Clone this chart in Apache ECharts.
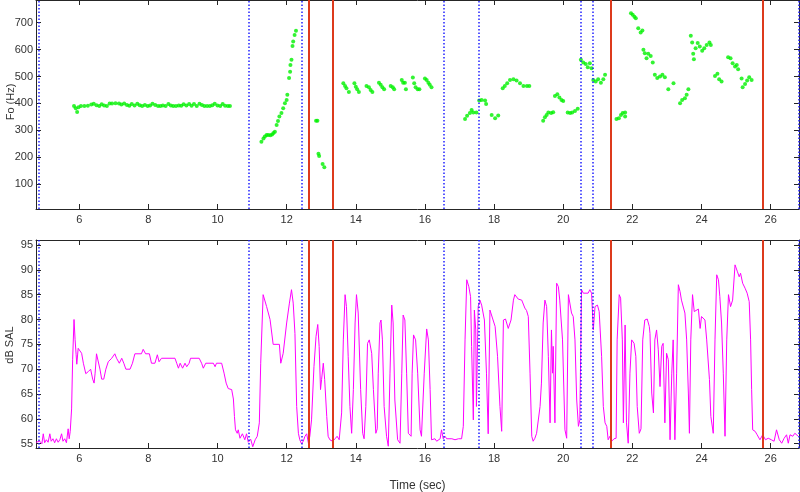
<!DOCTYPE html>
<html>
<head>
<meta charset="utf-8">
<script src="https://cdn.jsdelivr.net/npm/echarts@6/dist/echarts.min.js"></script>
<style>
  html, body { margin: 0; padding: 0; background: #fff; }
  #chart { width: 800px; height: 492px; }
</style>
</head>
<body>
<div id="chart"></div>
<script>
// tick labels
const timeTicks = [6, 8, 10, 12, 14, 16, 18, 20, 22, 24, 26]
const foTicks = [100, 200, 300, 400, 500, 600, 700]
const dbTicks = [55, 60, 65, 70, 75, 80, 85, 90, 95]

// segment boundaries (sec)
const blueMarks = [4.83, 10.89, 12.43, 16.53, 17.56, 20.51, 20.86, 26.81]
const redMarks = [12.64, 13.34, 21.37, 25.76]

// pitch track [time, Fo Hz]
const foPoints = [
  [5.85,390],[5.9,382],[5.94,368],[5.98,386],[6.05,390],[6.15,390],[6.25,391],[6.35,396],[6.42,399],[6.5,393],
  [6.58,390],[6.65,397],[6.72,392],[6.8,390],[6.88,400],[6.95,400],[7.05,401],[7.15,400],[7.22,396],[7.3,400],
  [7.38,394],[7.45,391],[7.52,398],[7.6,392],[7.68,399],[7.75,393],[7.82,390],[7.9,394],[7.98,390],[8.05,392],
  [8.12,399],[8.2,394],[8.28,390],[8.35,390],[8.42,392],[8.5,390],[8.58,398],[8.65,392],[8.72,390],[8.8,390],
  [8.88,392],[8.95,391],[9.02,397],[9.1,392],[9.18,398],[9.25,391],[9.32,398],[9.4,390],[9.48,399],[9.55,394],
  [9.62,390],[9.7,390],[9.78,390],[9.85,393],[9.92,399],[10.0,392],[10.08,390],[10.15,398],[10.22,391],[10.3,390],[10.36,390],
  [11.27,258],[11.33,270],[11.37,277],[11.42,283],[11.47,283],[11.53,282],[11.58,285],[11.62,290],[11.66,295],[11.71,320],
  [11.75,335],[11.79,351],[11.85,364],[11.9,382],[11.95,401],[12.0,413],[12.02,432],[12.07,494],[12.1,518],[12.11,543],
  [12.14,562],[12.17,613],[12.19,630],[12.23,654],[12.27,670],
  [12.85,336],[12.89,336],[12.92,213],[12.94,205],[13.04,175],[13.09,163],
  [13.64,475],[13.69,465],[13.73,456],[13.8,442],
  [13.96,475],[14.0,462],[14.04,453],[14.09,442],
  [14.31,465],[14.38,460],[14.43,450],[14.48,442],
  [14.67,477],[14.72,469],[14.77,460],[14.82,453],
  [15.01,465],[15.07,460],[15.11,453],
  [15.33,487],[15.37,477],[15.42,477],[15.45,453],
  [15.65,496],[15.69,475],[15.73,460],[15.79,453],[15.84,453],
  [16.0,493],[16.05,487],[16.1,477],[16.14,469],[16.19,460],
  [17.16,342],[17.22,354],[17.3,364],[17.35,376],[17.4,366],[17.49,366],[17.57,411],[17.64,413],[17.74,411],[17.77,398],
  [17.93,357],[18.03,345],[18.12,355],[18.25,456],[18.31,465],[18.38,475],[18.46,487],[18.56,490],[18.65,485],[18.75,475],
  [18.85,465],[18.95,465],[19.02,465],
  [19.42,336],[19.47,349],[19.52,357],[19.57,366],[19.65,364],[19.71,367],[19.76,428],[19.83,434],[19.89,422],[19.95,413],
  [20.0,409],[20.13,366],[20.2,364],[20.26,366],[20.34,372],[20.42,380],
  [20.51,562],[20.58,552],[20.65,546],[20.71,534],[20.77,549],[20.82,531],[20.87,487],[20.94,481],[21.01,490],[21.09,477],
  [21.16,490],[21.21,506],
  [21.54,342],[21.61,345],[21.67,357],[21.72,364],[21.79,351],[21.79,366],
  [21.96,735],[22.01,729],[22.06,722],[22.1,716],[22.17,679],[22.24,663],[22.29,671],[22.32,599],[22.36,586],[22.41,568],
  [22.46,584],[22.53,576],[22.59,552],[22.65,506],[22.72,494],[22.8,500],[22.87,506],[22.94,497],[23.04,453],[23.19,475],
  [23.38,401],[23.44,413],[23.52,419],[23.57,432],[23.62,453],
  [23.69,651],[23.73,626],[23.76,584],[23.78,564],[23.83,605],[23.89,624],[23.95,611],[24.02,596],[24.08,605],[24.15,617],
  [24.23,626],[24.27,617],
  [24.39,502],[24.46,510],[24.51,490],[24.58,481],
  [24.77,571],[24.84,568],[24.9,549],[24.97,537],[25.02,543],[25.06,527],[25.16,493],[25.19,460],[25.26,472],[25.32,485],
  [25.38,497],[25.45,487]
]

// sound level [time, dB SAL]
const dbPoints = [
  [4.75,55.3],[4.8,55],[4.86,55.5],[4.92,55],[4.96,57],[5.0,55.2],[5.05,55.8],[5.1,55.3],[5.15,57],[5.19,55.5],
  [5.24,56],[5.29,55.2],[5.34,56],[5.39,55.3],[5.44,55.8],[5.49,57],[5.53,55.5],[5.58,56],[5.63,55.2],[5.68,58],
  [5.71,56],[5.74,57.5],[5.78,62],[5.81,72],[5.85,80],[5.88,76],[5.91,73],[5.93,71],[5.97,74.2],[6.07,73.2],
  [6.12,71.2],[6.19,69.1],[6.26,69.5],[6.33,70],[6.39,68],[6.43,67.2],[6.46,69.2],[6.5,73.1],[6.55,73.1],[6.6,70],
  [6.65,68],[6.71,68],[6.77,70],[6.84,71.5],[6.94,72.2],[7.03,73.1],[7.08,72.2],[7.16,71.2],[7.23,72.2],[7.29,71.2],
  [7.35,70],[7.47,70],[7.54,71.2],[7.61,73.1],[7.8,73.1],[7.85,74],[7.92,73.1],[8.03,73.1],[8.09,71.2],[8.19,71.2],
  [8.26,72.9],[8.31,71.5],[8.38,72.2],[8.77,72.2],[8.82,71.2],[8.87,70.2],[8.92,71.2],[8.99,70.2],[9.06,71.2],[9.11,70.5],
  [9.18,71.2],[9.22,72.2],[9.47,72.2],[9.54,71.2],[9.59,70.2],[9.66,71.2],[9.88,71.2],[9.93,70.5],[9.97,71.2],[10.12,71.2],
  [10.19,69.2],[10.25,67.2],[10.31,66.1],[10.41,65.9],[10.46,64],[10.49,60.5],[10.52,57.8],[10.57,57.1],[10.6,57.8],[10.65,56.1],
  [10.72,57],[10.79,55.8],[10.84,57],[10.89,55.3],[10.96,55.9],[11.02,54.4],[11.09,55.8],[11.15,56.5],[11.21,59.2],[11.25,71.2],
  [11.32,85],[11.42,82.6],[11.52,80],[11.61,75],[11.79,75],[11.83,71.2],[11.9,73.2],[12.0,79.3],[12.08,83.3],[12.14,86],
  [12.19,83.3],[12.24,77.2],[12.29,62.5],[12.34,57.1],[12.38,55.8],[12.43,55],[12.48,55.5],[12.53,56.5],[12.58,57],[12.63,55.1],
  [12.67,56.5],[12.72,59.8],[12.79,70.5],[12.85,76.6],[12.9,79],[12.94,74.6],[12.98,65.9],[13.01,67.9],[13.06,71.2],[13.1,67.9],
  [13.16,60.5],[13.2,56.5],[13.25,55.8],[13.33,55.5],[13.4,56],[13.46,56.5],[13.52,55.8],[13.59,61.2],[13.64,75.9],[13.69,85],
  [13.73,82.6],[13.78,72.6],[13.83,62.5],[13.88,57.1],[13.93,65.9],[13.98,79.3],[14.02,85],[14.07,81.3],[14.14,65.9],[14.2,57.1],
  [14.24,56],[14.29,62.5],[14.34,75.2],[14.39,75.9],[14.46,73.2],[14.51,65.9],[14.58,57.1],[14.62,58],[14.65,69.2],[14.7,79.3],
  [14.73,79.9],[14.77,75.9],[14.82,62.5],[14.89,56.5],[14.94,54.5],[14.99,69.2],[15.04,82.9],[15.08,79.3],[15.13,63.8],[15.21,55.8],
  [15.28,55.1],[15.33,69.2],[15.37,80.9],[15.42,79.9],[15.47,69.2],[15.52,57.1],[15.6,56.5],[15.63,69.2],[15.67,76.9],[15.73,75.9],
  [15.79,69.2],[15.86,57.8],[15.9,56.5],[15.98,69.2],[16.05,78.1],[16.1,75.9],[16.15,65.9],[16.19,55.8],[16.24,55.5],[16.29,56],
  [16.34,55.5],[16.44,56],[16.48,57.8],[16.53,56],[16.58,56.5],[16.63,56],[16.68,55.8],[16.78,56],[16.87,55.8],[16.97,56],
  [17.06,56],[17.11,58.5],[17.16,75.9],[17.21,88],[17.27,86.6],[17.32,84.6],[17.35,74.6],[17.4,59.8],[17.43,81.9],[17.47,77.9],
  [17.49,62.5],[17.54,82.6],[17.59,83.9],[17.64,82.9],[17.72,79.9],[17.78,69.2],[17.83,57],[17.88,81.9],[17.93,81.9],[18.03,78.6],
  [18.1,72.6],[18.17,62.5],[18.22,57.5],[18.27,79.9],[18.33,80.1],[18.41,78.2],[18.49,79.9],[18.56,83.9],[18.6,85],[18.7,84.1],
  [18.8,83.9],[18.89,82.3],[18.94,81.8],[18.99,80.6],[19.04,69.2],[19.09,56.5],[19.13,55.5],[19.18,56.1],[19.23,57.1],[19.28,56.8],
  [19.33,62.5],[19.37,67.2],[19.42,79.3],[19.47,83.9],[19.52,82.6],[19.57,72.6],[19.62,59.2],[19.66,77.9],[19.69,69.2],[19.71,74.6],
  [19.76,59.2],[19.81,87.3],[19.86,86.6],[19.9,83.9],[19.98,75.9],[20.05,57.8],[20.1,56.1],[20.15,85],[20.19,85],[20.24,81.3],
  [20.29,80.6],[20.34,75.9],[20.39,63.8],[20.44,58.5],[20.48,59.8],[20.53,86],[20.58,85.3],[20.72,85.3],[20.77,86],[20.82,85.3],
  [20.87,77.9],[20.92,82.6],[20.99,82.9],[21.04,81.6],[21.11,72.6],[21.16,62.5],[21.21,59.2],[21.26,58.5],[21.3,55.8],[21.35,56.5],
  [21.4,55.5],[21.47,56],[21.53,56.1],[21.56,75.9],[21.62,85],[21.66,84.3],[21.71,75.9],[21.74,59.2],[21.79,78.9],[21.83,59.2],
  [21.88,55.1],[21.93,69.2],[21.98,75.9],[22.05,75.2],[22.1,72.6],[22.14,62.5],[22.2,57.1],[22.25,58],[22.3,75.9],[22.36,79.9],
  [22.43,80.1],[22.49,78.6],[22.51,77.2],[22.56,65.2],[22.61,61.2],[22.65,75.9],[22.7,77.9],[22.75,73.9],[22.8,66.5],[22.85,74.6],
  [22.89,75.2],[22.94,59.2],[22.99,73.2],[23.04,71.9],[23.09,55.8],[23.14,69.2],[23.18,75.9],[23.23,55.8],[23.28,69.2],[23.33,87],
  [23.38,85.6],[23.42,83.9],[23.47,84.3],[23.52,81.3],[23.57,75.9],[23.62,65.2],[23.65,57.1],[23.69,75.9],[23.74,85],[23.79,81.6],
  [23.84,81.9],[23.91,82.1],[23.96,78.2],[24.0,80.6],[24.05,80.9],[24.1,79.9],[24.15,75.9],[24.23,67.9],[24.27,60.5],[24.34,57.1],
  [24.39,75.9],[24.44,89],[24.49,88],[24.53,84.6],[24.58,79.3],[24.63,69.2],[24.68,56.5],[24.73,75.9],[24.78,85],[24.84,82.6],
  [24.9,83.9],[24.97,91],[25.04,89.6],[25.09,88.6],[25.13,89.3],[25.19,87.3],[25.26,86.3],[25.32,85.3],[25.38,83.6],[25.42,75.9],
  [25.45,65.9],[25.48,57.8],[25.55,57.5],[25.61,56.8],[25.69,55.8],[25.77,56.8],[25.85,55.8],[25.93,56.1],[26.02,55.8],[26.1,55.5],
  [26.17,57.8],[26.25,55.8],[26.32,55.1],[26.39,56.1],[26.46,56.8],[26.51,55.1],[26.56,56.8],[26.64,56.5],[26.7,57.1],[26.8,56.5]
]

const chart = echarts.init(document.getElementById('chart'), null, { renderer: 'canvas' })

const frameColor = '#262626'
const textColor = '#333'
const font = 'Liberation Sans, Arial, sans-serif'

function xAxisFor(gridIndex, position, withLabels) {
  return {
    type: 'value',
    gridIndex,
    position,
    min: 4.75,
    max: 26.82,
    axisLine: { show: true, onZero: false, lineStyle: { color: frameColor, width: 1 } },
    axisTick: { show: true, inside: true, length: 5, customValues: timeTicks, lineStyle: { color: frameColor } },
    axisLabel: { show: withLabels, customValues: timeTicks, color: textColor, fontSize: 11, fontFamily: font, margin: 5 },
    splitLine: { show: false }
  }
}

function yAxisFor(gridIndex, position, min, max, ticks, withLabels) {
  return {
    type: 'value',
    gridIndex,
    position,
    min,
    max,
    axisLine: { show: true, onZero: false, lineStyle: { color: frameColor, width: 1 } },
    axisTick: { show: true, inside: true, length: 5, customValues: ticks, lineStyle: { color: frameColor } },
    axisLabel: { show: withLabels, customValues: ticks, color: textColor, fontSize: 11, fontFamily: font, margin: 3 },
    splitLine: { show: false }
  }
}

function boundaryLines() {
  const blue = blueMarks.map(t => ({ xAxis: t, lineStyle: { color: '#2020ff', type: [1.5, 2], width: 1.5 } }))
  const red = redMarks.map(t => ({ xAxis: t, lineStyle: { color: '#dd3a1c', type: 'solid', width: 2 } }))
  return {
    silent: true,
    symbol: ['none', 'none'],
    label: { show: false },
    animation: false,
    data: blue.concat(red)
  }
}

// rotated y-axis title placed beside the tick labels
function yTitle(text, x, y) {
  return {
    type: 'text',
    x,
    y,
    rotation: Math.PI / 2,
    silent: true,
    style: {
      text,
      fill: textColor,
      font: '11px ' + font,
      align: 'center',
      verticalAlign: 'middle'
    }
  }
}

const xTime = xAxisFor(1, 'bottom', true)
xTime.name = 'Time (sec)'
xTime.nameLocation = 'middle'
xTime.nameGap = 32
xTime.nameTextStyle = { color: textColor, fontSize: 12, fontFamily: font }

const option = {
  backgroundColor: '#fff',
  animation: false,
  grid: [
    { left: 36, right: 1, top: 0, height: 209, outerBoundsMode: 'none', containLabel: false },
    { left: 36, right: 1, top: 240, height: 208, outerBoundsMode: 'none', containLabel: false }
  ],
  graphic: [
    yTitle('Fo (Hz)', 11, 102),
    yTitle('dB SAL', 10, 345)
  ],
  xAxis: [
    xAxisFor(0, 'bottom', true),
    xAxisFor(0, 'top', false),
    xTime,
    xAxisFor(1, 'top', false)
  ],
  yAxis: [
    yAxisFor(0, 'left', 8, 784, foTicks, true),
    yAxisFor(0, 'right', 8, 784, foTicks, false),
    yAxisFor(1, 'left', 54.14, 96, dbTicks, true),
    yAxisFor(1, 'right', 54.14, 96, dbTicks, false)
  ],
  series: [
    {
      type: 'scatter',
      xAxisIndex: 0,
      yAxisIndex: 0,
      data: foPoints,
      symbol: 'circle',
      symbolSize: 4,
      itemStyle: { color: '#00f000' },
      markLine: boundaryLines()
    },
    {
      type: 'line',
      xAxisIndex: 2,
      yAxisIndex: 2,
      data: dbPoints,
      showSymbol: false,
      lineStyle: { color: '#ff00ff', width: 1 },
      markLine: boundaryLines()
    }
  ]
}

chart.setOption(option)
</script>
</body>
</html>
